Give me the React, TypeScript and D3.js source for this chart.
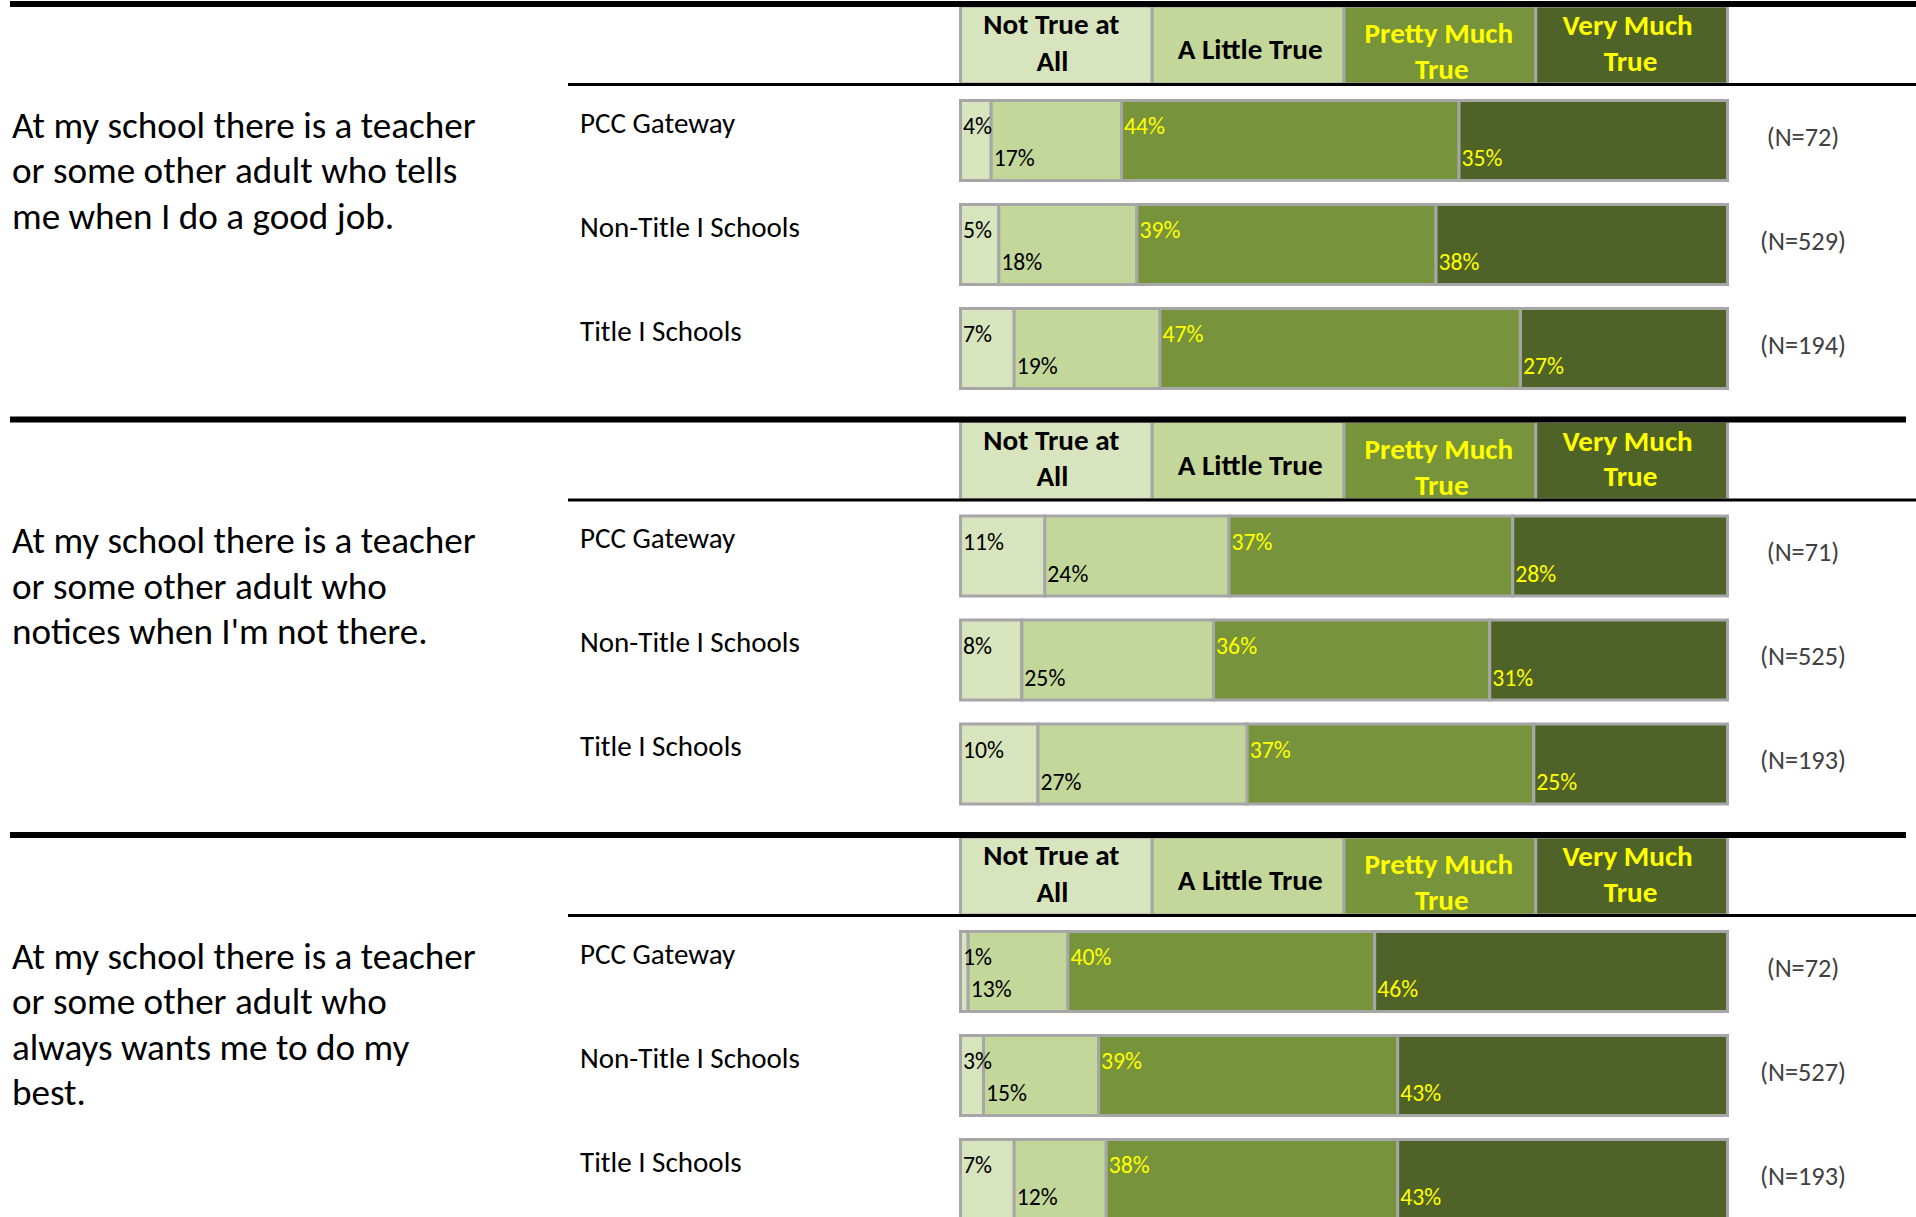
import React, { useLayoutEffect, useRef, useState } from "react";
import * as d3 from "d3";

// ---------- data ----------
const categories = ["Not True at All", "A Little True", "Pretty Much True", "Very Much True"];
const headerLines = [["Not True at", "All"], ["A Little True"], ["Pretty Much", "True"], ["Very Much", "True"]];
const groups = ["PCC Gateway", "Non-Title I Schools", "Title I Schools"];
const questionLines = [
  ["At my school there is a teacher", "or some other adult who tells", "me when I do a good job."],
  ["At my school there is a teacher", "or some other adult who", "notices when I'm not there."],
  ["At my school there is a teacher", "or some other adult who", "always wants me to do my", "best."],
];
const goodJobValues = [
  [4, 17, 44, 35],
  [5, 18, 39, 38],
  [7, 19, 47, 27],
];
const noticesValues = [
  [11, 24, 37, 28],
  [8, 25, 36, 31],
  [10, 27, 37, 25],
];
const bestValues = [
  [1, 13, 40, 46],
  [3, 15, 39, 43],
  [7, 12, 38, 43],
];
const goodJobN = [72, 529, 194];
const noticesN = [71, 525, 193];
const bestN = [72, 527, 193];

const sectionValues = [goodJobValues, noticesValues, bestValues];
const sectionN = [goodJobN, noticesN, bestN];

// ---------- style ----------
const W = 1916;
const H = 1217;
const FILLS = ["#D7E4BD", "#C4D79B", "#77933C", "#4F6228"];
const LABEL_COLORS = ["#000000", "#000000", "#FFFF00", "#FFFF00"];
const GRAY = "#A6A6A6";
const FONT = "Carlito, Calibri, Lato, 'Noto Sans', sans-serif";

// header text baselines (relative to section top line) and x nudges from cell center
const headerBaselines = [[30.3, 66.7], [55], [39.3, 75], [31, 66.7]];
const headerNudge = [[-5, -4], [2], [-1, 2], [-4, -1]];

const measureSpecs = [
  { key: "q", text: "At my school there is a teacher", target: 464, weight: "normal" },
  { key: "row", text: "Non-Title I Schools", target: 220, weight: "normal" },
  { key: "head", text: "A Little True", target: 145, weight: "bold" },
  { key: "pct", text: "44%", target: 41, weight: "normal" },
  { key: "n", text: "(N=529)", target: 86, weight: "normal" },
];

export default function App() {
  const [sizes, setSizes] = useState<Record<string, number>>({ q: 30, row: 27, head: 26, pct: 21, n: 23 });
  const measRef = useRef<SVGGElement>(null);

  useLayoutEffect(() => {
    document.body.style.margin = "0";
    document.body.style.overflow = "hidden";
    const fit = () => {
      const g = measRef.current;
      if (!g) return;
      const next: Record<string, number> = {};
      g.querySelectorAll("text").forEach((t) => {
        const el = t as SVGTextElement;
        const key = el.getAttribute("data-key") as string;
        const target = +(el.getAttribute("data-target") as string);
        const len = el.getComputedTextLength();
        if (len > 0) next[key] = (100 * target) / len;
      });
      setSizes((s) => ({ ...s, ...next }));
    };
    fit();
    if ((document as any).fonts && (document as any).fonts.ready) {
      (document as any).fonts.ready.then(fit);
    }
  }, []);

  const sectionY = d3.scaleLinear().domain([0, 1]).range([4, 419.5]);
  const band = d3.scaleBand<string>().domain(categories).range([960.5, 1727.5]);
  const rowY = d3.scaleLinear().domain([0, 1]).range([96.5, 200.5]);
  const barH = 80;

  return (
    <svg
      width={W}
      height={H}
      viewBox={`0 0 ${W} ${H}`}
      style={{ position: "absolute", left: 0, top: 0, background: "#fff", fontFamily: FONT }}
    >
      <g ref={measRef} visibility="hidden">
        {measureSpecs.map((m) => (
          <text key={m.key} data-key={m.key} data-target={m.target} x={0} y={-200} fontSize={100} fontWeight={m.weight}>
            {m.text}
          </text>
        ))}
      </g>
      <rect x={0} y={0} width={W} height={H} fill="#fff" />
      {sectionValues.map((rows, si) => {
        const y0 = sectionY(si);
        return (
          <g key={si}>
            {/* header cells */}
            {categories.map((c, ci) => (
              <rect
                key={c}
                x={band(c)}
                y={y0 + 2}
                width={band.bandwidth()}
                height={78}
                fill={FILLS[ci]}
                stroke={GRAY}
                strokeWidth={3}
              />
            ))}
            {categories.map((c, ci) =>
              headerLines[ci].map((line, li) => (
                <text
                  key={c + li}
                  x={(band(c) as number) + band.bandwidth() / 2 + headerNudge[ci][li]}
                  y={y0 + headerBaselines[ci][li]}
                  textAnchor="middle"
                  fontWeight="bold"
                  fontSize={sizes.head}
                  fill={LABEL_COLORS[ci]}
                >
                  {line}
                </text>
              ))
            )}
            {/* section top thick line */}
            <rect x={10} y={y0 - 3} width={(si === 0 ? W : 1906) - 10} height={6} fill="#000" />
            {/* header bottom line */}
            <rect x={568} y={y0 + 79} width={W - 568} height={3} fill="#000" />
            {/* question text */}
            {questionLines[si].map((line, li) => (
              <text key={li} x={12} y={y0 + 133.5 + li * 45.5} fontSize={sizes.q} fill="#000">
                {line}
              </text>
            ))}
            {/* bars */}
            {rows.map((vals, ri) => {
              const top = y0 + rowY(ri);
              const total = d3.sum(vals);
              const x = d3.scaleLinear().domain([0, total]).range([960.5, 1727.5]);
              const starts = d3.cumsum([0, ...vals.slice(0, -1)]);
              return (
                <g key={ri}>
                  <text x={580} y={top + 32} fontSize={sizes.row} fill="#000">
                    {groups[ri]}
                  </text>
                  {vals.map((v, vi) => (
                    <rect
                      key={vi}
                      x={x(starts[vi])}
                      y={top}
                      width={x(starts[vi] + v) - x(starts[vi])}
                      height={barH}
                      fill={FILLS[vi]}
                      stroke={GRAY}
                      strokeWidth={3}
                    />
                  ))}
                  {vals.map((v, vi) => (
                    <text
                      key={"l" + vi}
                      x={x(starts[vi]) + 2.5}
                      y={top + (vi % 2 === 0 ? 33.5 : 65.5)}
                      fontSize={sizes.pct}
                      fill={LABEL_COLORS[vi]}
                    >
                      {`${v}%`}
                    </text>
                  ))}
                  <text x={1803} y={top + 45} textAnchor="middle" fontSize={sizes.n} fill="#404040">
                    {`(N=${sectionN[si][ri]})`}
                  </text>
                </g>
              );
            })}
          </g>
        );
      })}
    </svg>
  );
}
